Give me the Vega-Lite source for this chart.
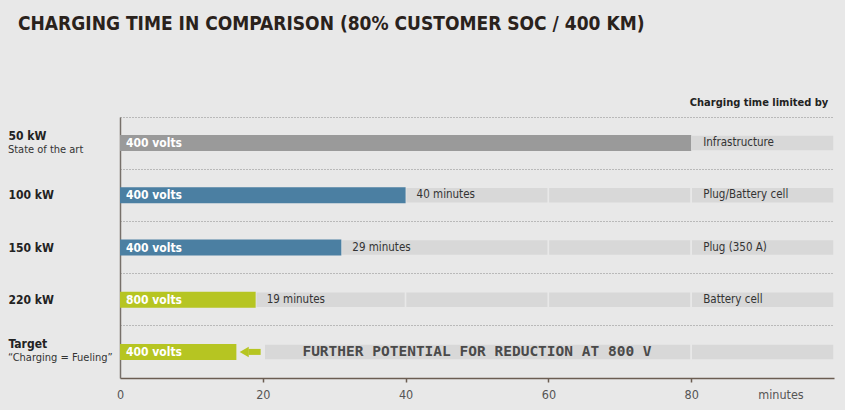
{
  "$schema": "https://vega.github.io/schema/vega-lite/v6.json",
  "width": 714,
  "height": 261,
  "autosize": {"type": "none"},
  "padding": {"left": 120, "top": 117, "right": 11, "bottom": 32},
  "background": "#e8e8e8",
  "title": {
    "text": "CHARGING TIME IN COMPARISON (80% CUSTOMER SOC / 400 KM)",
    "anchor": "start",
    "frame": "group",
    "dx": -102,
    "offset": 63,
    "font": "DejaVu Sans Condensed, Liberation Sans Narrow, Roboto, sans-serif",
    "fontSize": 19,
    "fontWeight": "bold",
    "color": "#2a221c"
  },
  "config": {"view": {"stroke": null}, "font": "DejaVu Sans Condensed, Roboto, sans-serif"},
  "datasets": {
    "rows": [
      {"row": "50 kW", "sub": "State of the art", "minutes": 80, "volts": "400 volts", "kind": "state", "limit": "Infrastructure", "mlabel": ""},
      {"row": "100 kW", "sub": "", "minutes": 40, "volts": "400 volts", "kind": "400", "limit": "Plug/Battery cell", "mlabel": "40 minutes"},
      {"row": "150 kW", "sub": "", "minutes": 31, "volts": "400 volts", "kind": "400", "limit": "Plug (350 A)", "mlabel": "29 minutes"},
      {"row": "220 kW", "sub": "", "minutes": 19, "volts": "800 volts", "kind": "800", "limit": "Battery cell", "mlabel": "19 minutes"},
      {"row": "Target", "sub": "“Charging = Fueling”", "minutes": 16.3, "volts": "400 volts", "kind": "800", "limit": "", "mlabel": ""}
    ],
    "segments": [
      {"row": "50 kW", "start": 80, "end": 100},
      {"row": "100 kW", "start": 40, "end": 60},
      {"row": "100 kW", "start": 60, "end": 80},
      {"row": "100 kW", "start": 80, "end": 100},
      {"row": "150 kW", "start": 31, "end": 60},
      {"row": "150 kW", "start": 60, "end": 80},
      {"row": "150 kW", "start": 80, "end": 100},
      {"row": "220 kW", "start": 19, "end": 40},
      {"row": "220 kW", "start": 40, "end": 60},
      {"row": "220 kW", "start": 60, "end": 80},
      {"row": "220 kW", "start": 80, "end": 100},
      {"row": "Target", "start": 20.2, "end": 80},
      {"row": "Target", "start": 80, "end": 100}
    ]
  },
  "layer": [
    {
      "data": {"name": "segments"},
      "mark": {"type": "bar", "height": 16, "color": "#d8d8d8", "stroke": "#e8e8e8", "strokeWidth": 1.5},
      "encoding": {
        "y": {
          "field": "row", "type": "nominal",
          "sort": ["50 kW", "100 kW", "150 kW", "220 kW", "Target"],
          "scale": {"paddingInner": 0, "paddingOuter": 0},
          "title": null,
          "axis": {
            "labelAlign": "left",
            "labelPadding": 112,
            "labelFont": "DejaVu Sans Condensed, Roboto, sans-serif",
            "labelFontSize": 12,
            "labelFontWeight": "bold",
            "labelColor": "#222222",
            "labelOffset": {"condition": {"test": "datum.value == '50 kW' || datum.value == 'Target'", "value": -7.5}, "value": 0},
            "ticks": false,
            "domainColor": "#77706a",
            "domainWidth": 1.5,
            "grid": true,
            "bandPosition": 0,
            "gridColor": "#8a8a8a",
            "gridDash": [1, 2],
            "gridWidth": 1
          }
        },
        "x": {
          "field": "start", "type": "quantitative",
          "scale": {"domain": [0, 100], "nice": false},
          "title": null,
          "axis": {
            "values": [0, 20, 40, 60, 80, 92.5],
            "labelExpr": "datum.value > 90 ? 'minutes' : datum.label",
            "labelFont": "DejaVu Sans Condensed, Roboto, sans-serif",
            "labelFontSize": 12.5,
            "labelColor": "#555555",
            "labelPadding": 6,
            "labelFlush": false,
            "grid": false,
            "domainColor": "#6b5d52",
            "domainWidth": 1.5,
            "tickColor": "#6b5d52",
            "tickWidth": 1.5,
            "tickSize": 4,
            "tickOffset": 0,
            "tickOpacity": {"condition": {"test": "datum.value > 90 || datum.value == 0", "value": 0}, "value": 1}
          }
        },
        "x2": {"field": "end"}
      }
    },
    {
      "data": {"name": "rows"},
      "mark": {"type": "bar", "height": 16},
      "encoding": {
        "y": {"field": "row", "type": "nominal", "sort": ["50 kW", "100 kW", "150 kW", "220 kW", "Target"]},
        "x": {"field": "minutes", "type": "quantitative"},
        "color": {
          "field": "kind", "type": "nominal", "legend": null,
          "scale": {"domain": ["state", "400", "800"], "range": ["#9a9a9a", "#4b7fa2", "#b6c522"]}
        }
      }
    },
    {
      "data": {"name": "rows"},
      "mark": {"type": "text", "align": "left", "baseline": "middle", "dx": 6, "color": "#ffffff", "fontWeight": "bold", "fontSize": 12, "font": "DejaVu Sans Condensed, Roboto, sans-serif"},
      "encoding": {
        "y": {"field": "row", "type": "nominal", "sort": ["50 kW", "100 kW", "150 kW", "220 kW", "Target"]},
        "x": {"datum": 0},
        "text": {"field": "volts"}
      }
    },
    {
      "data": {"name": "rows"},
      "transform": [{"filter": "datum.mlabel != ''"}],
      "mark": {"type": "text", "align": "left", "baseline": "middle", "dx": 11, "color": "#333333", "fontSize": 11.5, "font": "DejaVu Sans Condensed, Roboto, sans-serif"},
      "encoding": {
        "y": {"field": "row", "type": "nominal", "sort": ["50 kW", "100 kW", "150 kW", "220 kW", "Target"]},
        "x": {"field": "minutes", "type": "quantitative"},
        "text": {"field": "mlabel"}
      }
    },
    {
      "data": {"name": "rows"},
      "transform": [{"filter": "datum.limit != ''"}],
      "mark": {"type": "text", "align": "left", "baseline": "middle", "dx": 12, "color": "#333333", "fontSize": 11.5, "font": "DejaVu Sans Condensed, Roboto, sans-serif"},
      "encoding": {
        "y": {"field": "row", "type": "nominal", "sort": ["50 kW", "100 kW", "150 kW", "220 kW", "Target"]},
        "x": {"datum": 80},
        "text": {"field": "limit"}
      }
    },
    {
      "data": {"values": [{"row": "Target", "from": 18.0, "to": 19.7}]},
      "mark": {"type": "bar", "height": 6, "color": "#b6c522"},
      "encoding": {
        "y": {"field": "row", "type": "nominal", "sort": ["50 kW", "100 kW", "150 kW", "220 kW", "Target"]},
        "x": {"field": "from", "type": "quantitative"},
        "x2": {"field": "to"}
      }
    },
    {
      "data": {"values": [{"row": "Target", "tip": 17.4}]},
      "mark": {"type": "point", "shape": "triangle-left", "filled": true, "size": 110, "color": "#b6c522", "opacity": 1},
      "encoding": {
        "y": {"field": "row", "type": "nominal", "sort": ["50 kW", "100 kW", "150 kW", "220 kW", "Target"]},
        "x": {"field": "tip", "type": "quantitative"}
      }
    },
    {
      "data": {"values": [{"row": "Target", "pos": 50, "note": "FURTHER POTENTIAL FOR REDUCTION AT 800 V"}]},
      "mark": {"type": "text", "align": "center", "baseline": "middle", "color": "#4a4a4a", "fontSize": 14.5, "fontWeight": "bold", "font": "DejaVu Sans Mono"},
      "encoding": {
        "y": {"field": "row", "type": "nominal", "sort": ["50 kW", "100 kW", "150 kW", "220 kW", "Target"]},
        "x": {"field": "pos", "type": "quantitative"},
        "text": {"field": "note"}
      }
    },
    {
      "data": {"name": "rows"},
      "transform": [{"filter": "datum.sub != ''"}],
      "mark": {"type": "text", "align": "left", "baseline": "middle", "dy": 6.5, "color": "#333333", "fontSize": 11, "font": "DejaVu Sans Condensed, Roboto, sans-serif"},
      "encoding": {
        "y": {"field": "row", "type": "nominal", "sort": ["50 kW", "100 kW", "150 kW", "220 kW", "Target"]},
        "x": {"datum": -15.7},
        "text": {"field": "sub"}
      }
    },
    {
      "data": {"values": [{"row": "50 kW", "pos": 99.2, "head": "Charging time limited by"}]},
      "mark": {"type": "text", "align": "right", "baseline": "middle", "dy": -40, "color": "#222222", "fontSize": 11, "fontWeight": "bold", "font": "DejaVu Sans Condensed, Roboto, sans-serif"},
      "encoding": {
        "y": {"field": "row", "type": "nominal", "sort": ["50 kW", "100 kW", "150 kW", "220 kW", "Target"]},
        "x": {"field": "pos", "type": "quantitative"},
        "text": {"field": "head"}
      }
    }
  ]
}
